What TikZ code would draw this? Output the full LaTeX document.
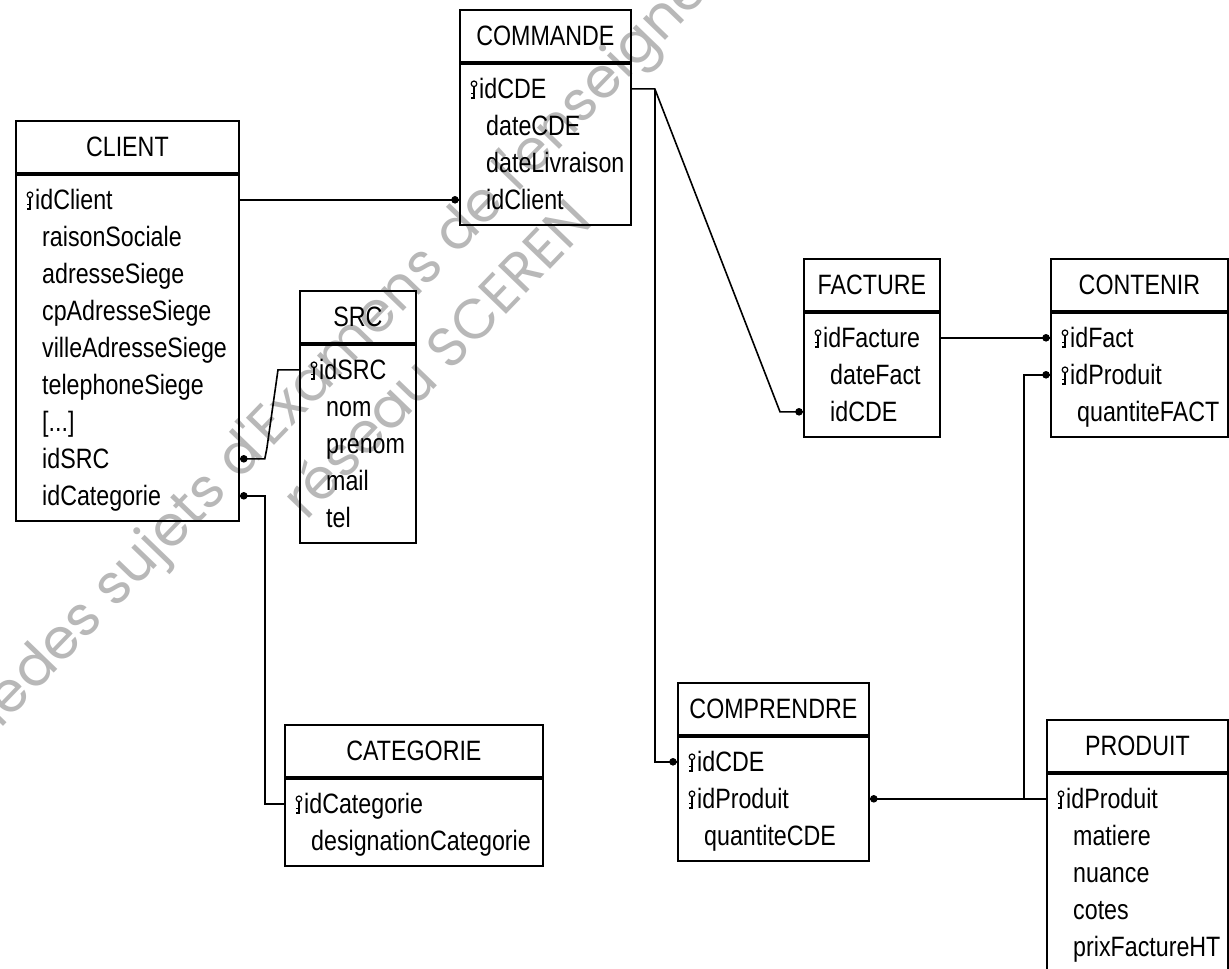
\documentclass[tikz,border=0pt]{standalone}
\usepackage{fontspec}
\setmainfont{Liberation Sans}[FakeStretch=0.83]
\newfontfamily\wmfont{Poppins}
\usetikzlibrary{calc}
\newcommand\fs{\fontsize{28}{33}\selectfont}
\tikzset{
  x=1pt, y=-1pt,
  hdr/.style={draw, line width=1.8pt, anchor=north west, minimum height=52pt,
    inner sep=0pt, text height=20pt, text depth=0pt, font=\fs},
  bdy/.style={draw, line width=1.8pt, anchor=north west, inner sep=0pt},
  fieldtext/.style={anchor=west, inner sep=0pt, text height=20pt, text depth=0pt, font=\fs},
  link/.style={line width=1.6pt},
  enddot/.style={radius=3.8pt},
  wm/.style={rotate=46, inner sep=0pt, text=black!28, font=\wmfont\fontsize{56}{60}\selectfont},
  keyicon/.pic={
    \draw[line width=1.2pt] (0,-5) circle[radius=2.8pt];
    \draw[line width=1.4pt] (0,-2.2) -- (0,9) -- (-3.2,9);
    \draw[line width=1.2pt] (0,5) -- (-2.8,5);
  }
}
% entity: name, left x, top y, width, title, number of rows
\newcommand\entity[6]{%
  \node[hdr, minimum width=#4pt] (#1) at (#2,#3) {#5};
  \node[bdy, minimum width=#4pt, minimum height={(37*#6+13)*1pt}] (#1-b) at (#1.south west) {};
}
% key row: entity, index, text
\newcommand\krow[3]{%
  \coordinate (#1-#2) at ($(#1-b.north west)+(0,{26+37*(#2-1)})$);
  \pic at ($(#1-#2)+(15,0)$) {keyicon};
  \node[fieldtext] (#1-t#2) at ($(#1-#2)+(20,0)$) {#3};
}
% plain row
\newcommand\nrow[3]{%
  \coordinate (#1-#2) at ($(#1-b.north west)+(0,{26+37*(#2-1)})$);
  \node[fieldtext] (#1-t#2) at ($(#1-#2)+(27,0)$) {#3};
}
\begin{document}
\begin{tikzpicture}
\useasboundingbox (0,0) rectangle (1229,969);
\fill[white] (0,0) rectangle (1229,969);
% watermark
\begin{scope}
  \clip (0,0) rectangle (1229,969);
  \node[wm, anchor=base east] (wm1a) at (34,694) {Base nationale\ };
  \node[wm, anchor=base west] (wm1b) at (34,694) {des sujets d'Examens de l'enseignement professionnel};
  \node[wm, anchor=base west] (wm2) at (306,522) {réseau SCEREN};
\end{scope}

% entities
\entity{client}{15}{120}{223}{CLIENT}{9}
\krow{client}{1}{idClient}
\nrow{client}{2}{raisonSociale}
\nrow{client}{3}{adresseSiege}
\nrow{client}{4}{cpAdresseSiege}
\nrow{client}{5}{villeAdresseSiege}
\nrow{client}{6}{telephoneSiege}
\nrow{client}{7}{[...]}
\nrow{client}{8}{idSRC}
\nrow{client}{9}{idCategorie}

\entity{commande}{459}{9}{171}{COMMANDE}{4}
\krow{commande}{1}{idCDE}
\nrow{commande}{2}{dateCDE}
\nrow{commande}{3}{dateLivraison}
\nrow{commande}{4}{idClient}

\entity{src}{299}{290}{116}{SRC}{5}
\krow{src}{1}{idSRC}
\nrow{src}{2}{nom}
\nrow{src}{3}{prenom}
\nrow{src}{4}{mail}
\nrow{src}{5}{tel}

\entity{categorie}{284}{724}{258}{CATEGORIE}{2}
\krow{categorie}{1}{idCategorie}
\nrow{categorie}{2}{designationCategorie}

\entity{facture}{803}{258}{136}{FACTURE}{3}
\krow{facture}{1}{idFacture}
\nrow{facture}{2}{dateFact}
\nrow{facture}{3}{idCDE}

\entity{contenir}{1050}{258}{177}{CONTENIR}{3}
\krow{contenir}{1}{idFact}
\krow{contenir}{2}{idProduit}
\nrow{contenir}{3}{quantiteFACT}

\entity{comprendre}{677}{682}{191}{COMPRENDRE}{3}
\krow{comprendre}{1}{idCDE}
\krow{comprendre}{2}{idProduit}
\nrow{comprendre}{3}{quantiteCDE}

\entity{produit}{1046}{719}{181}{PRODUIT}{5}
\krow{produit}{1}{idProduit}
\nrow{produit}{2}{matiere}
\nrow{produit}{3}{nuance}
\nrow{produit}{4}{cotes}
\nrow{produit}{5}{prixFactureHT}

% connectors
% CLIENT -> COMMANDE
\draw[link] (client-b.east |- client-1) -- (commande-b.west |- commande-4);
\fill ($(commande-b.west |- commande-4)+(-4,0)$) circle[enddot];
% CLIENT idSRC -> SRC
\draw[link] (client-b.east |- client-8) -- ++(25,0) -- ++(2,-10)
  -- ($(src-b.west |- src-1)+(-21,0)$) -- (src-b.west |- src-1);
\fill ($(client-b.east |- client-8)+(4,0)$) circle[enddot];
% CLIENT idCategorie -> CATEGORIE
\draw[link] (client-b.east |- client-9) -- ++(25,0) |- (categorie-b.west |- categorie-1);
\fill ($(client-b.east |- client-9)+(4,0)$) circle[enddot];
% COMMANDE -> FACTURE and COMPRENDRE
\coordinate (cdeK) at ($(commande-b.east |- commande-1)+(23,0)$);
\draw[link] (commande-b.east |- commande-1) -- (cdeK)
  -- ($(facture-b.west |- facture-3)+(-23,0)$) -- (facture-b.west |- facture-3);
\fill ($(facture-b.west |- facture-3)+(-4,0)$) circle[enddot];
\draw[link] (cdeK) |- (comprendre-b.west |- comprendre-1);
\fill ($(comprendre-b.west |- comprendre-1)+(-4,0)$) circle[enddot];
% FACTURE -> CONTENIR
\draw[link] (facture-b.east |- facture-1) -- (contenir-b.west |- contenir-1);
\fill ($(contenir-b.west |- contenir-1)+(-4,0)$) circle[enddot];
% PRODUIT -> COMPRENDRE and CONTENIR
\draw[link] (produit-b.west |- produit-1) -- (comprendre-b.east |- comprendre-2);
\fill ($(comprendre-b.east |- comprendre-2)+(4,0)$) circle[enddot];
\draw[link] ($(produit-b.west |- produit-1)+(-22,0)$) |- (contenir-b.west |- contenir-2);
\fill ($(contenir-b.west |- contenir-2)+(-4,0)$) circle[enddot];
\end{tikzpicture}
\end{document}
